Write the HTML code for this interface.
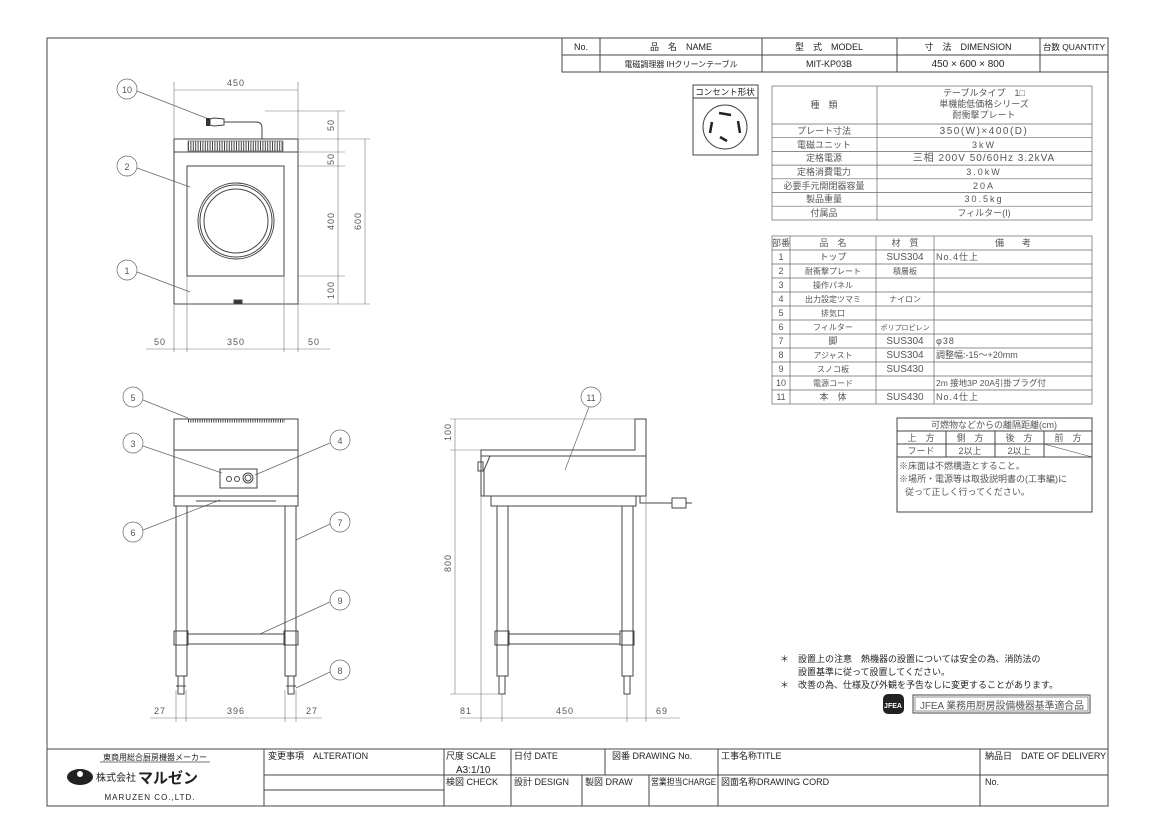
<!DOCTYPE html>
<html><head><meta charset="utf-8"><style>
html,body{margin:0;padding:0;background:#fff;}
svg{display:block;font-family:"Liberation Sans","Noto Sans CJK JP",sans-serif;}
.l{stroke:#444;stroke-width:1;fill:none}
.t{stroke:#666;stroke-width:.7;fill:none}
.d{stroke:#777;stroke-width:.6;fill:none}
text{fill:#222;font-size:9px}
.g{fill:#555}
.b text{text-anchor:middle}
</style></head><body>
<svg width="1155" height="817" viewBox="0 0 1155 817" xmlns="http://www.w3.org/2000/svg">
<!-- frame -->
<rect x="47" y="38" width="1061" height="768" class="l"/>
<!-- header table -->
<g class="l"><rect x="562" y="38" width="546" height="34" fill="#fff"/>
<line x1="562" y1="55" x2="1108" y2="55"/>
<line x1="600" y1="38" x2="600" y2="72"/><line x1="762" y1="38" x2="762" y2="72"/>
<line x1="897" y1="38" x2="897" y2="72"/><line x1="1040" y1="38" x2="1040" y2="72"/></g>
<g class="b"><text x="581" y="50">No.</text><text x="681" y="50">品　名　NAME</text>
<text x="829" y="50">型　式　MODEL</text><text x="968" y="50">寸　法　DIMENSION</text>
<text x="1074" y="50" style="font-size:8.5px">台数 QUANTITY</text>
<text x="681" y="67" style="font-size:8px">電磁調理器 IHクリーンテーブル</text><text x="829" y="67">MIT-KP03B</text>
<text x="968" y="67" style="font-size:10px">450 × 600 × 800</text></g>

<!-- consent -->
<rect x="693" y="85" width="65" height="70" class="l"/><line x1="693" y1="98" x2="758" y2="98" class="l"/>
<text x="725" y="95" style="font-size:8.5px;text-anchor:middle">コンセント形状</text>
<circle cx="725" cy="127" r="22" class="l"/>
<g stroke="#222" stroke-width="2.5" fill="none"><path d="M719 113 L731 115"/><path d="M712 122 L710 133"/><path d="M738 121 L740 133"/><path d="M720 137 L727 141"/></g>

<!-- spec table -->
<g class="t"><rect x="772" y="86" width="320" height="134"/>
<line x1="877" y1="86" x2="877" y2="220"/>
<line x1="772" y1="124" x2="1092" y2="124"/><line x1="772" y1="137.7" x2="1092" y2="137.7"/>
<line x1="772" y1="151.4" x2="1092" y2="151.4"/><line x1="772" y1="165.1" x2="1092" y2="165.1"/>
<line x1="772" y1="178.8" x2="1092" y2="178.8"/><line x1="772" y1="192.5" x2="1092" y2="192.5"/>
<line x1="772" y1="206.2" x2="1092" y2="206.2"/></g>
<g class="b g" style="font-size:9px">
<text x="824" y="108" class="g">種　類</text>
<text x="984" y="96" class="g">テーブルタイプ　1□</text><text x="984" y="107" class="g">単機能低価格シリーズ</text><text x="984" y="118" class="g">耐衝撃プレート</text>
<text x="824" y="134" class="g">プレート寸法</text><text x="984" y="134" class="g" style="font-size:10px;letter-spacing:1.5px">350(W)×400(D)</text>
<text x="824" y="148" class="g">電磁ユニット</text><text x="984" y="148" class="g" style="letter-spacing:2px">3kW</text>
<text x="824" y="161" class="g">定格電源</text><text x="984" y="161" class="g" style="font-size:10px;letter-spacing:1px">三相 200V 50/60Hz 3.2kVA</text>
<text x="824" y="175" class="g">定格消費電力</text><text x="984" y="175" class="g" style="letter-spacing:2px">3.0kW</text>
<text x="824" y="189" class="g">必要手元開閉器容量</text><text x="984" y="189" class="g" style="letter-spacing:2px">20A</text>
<text x="824" y="202" class="g">製品重量</text><text x="984" y="202" class="g" style="letter-spacing:2px">30.5kg</text>
<text x="824" y="216" class="g">付属品</text><text x="984" y="216" class="g">フィルター(I)</text></g>

<!-- parts table -->
<g class="t"><rect x="772" y="236" width="320" height="168"/>
<line x1="790" y1="236" x2="790" y2="404"/><line x1="876" y1="236" x2="876" y2="404"/><line x1="934" y1="236" x2="934" y2="404"/>
<line x1="772" y1="250" x2="1092" y2="250"/><line x1="772" y1="264" x2="1092" y2="264"/><line x1="772" y1="278" x2="1092" y2="278"/>
<line x1="772" y1="292" x2="1092" y2="292"/><line x1="772" y1="306" x2="1092" y2="306"/><line x1="772" y1="320" x2="1092" y2="320"/>
<line x1="772" y1="334" x2="1092" y2="334"/><line x1="772" y1="348" x2="1092" y2="348"/><line x1="772" y1="362" x2="1092" y2="362"/>
<line x1="772" y1="376" x2="1092" y2="376"/><line x1="772" y1="390" x2="1092" y2="390"/></g>
<g class="b" style="font-size:9px">
<text x="781" y="246" class="g">部番</text><text x="833" y="246" class="g">品　名</text><text x="905" y="246" class="g">材　質</text><text x="1013" y="246" class="g">備　　考</text>
<text x="781" y="260" class="g">1</text><text x="833" y="260" class="g">トップ</text><text x="905" y="260" class="g" style="font-size:10px">SUS304</text>
<text x="781" y="274" class="g">2</text><text x="833" y="274" class="g" style="font-size:8px">耐衝撃プレート</text><text x="905" y="274" class="g" style="font-size:8px">積層板</text>
<text x="781" y="288" class="g">3</text><text x="833" y="288" class="g" style="font-size:8px">操作パネル</text>
<text x="781" y="302" class="g">4</text><text x="833" y="302" class="g" style="font-size:8px">出力設定ツマミ</text><text x="905" y="302" class="g" style="font-size:8px">ナイロン</text>
<text x="781" y="316" class="g">5</text><text x="833" y="316" class="g" style="font-size:8px">排気口</text>
<text x="781" y="330" class="g">6</text><text x="833" y="330" class="g" style="font-size:8px">フィルター</text><text x="905" y="330" class="g" style="font-size:7px">ポリプロピレン</text>
<text x="781" y="344" class="g">7</text><text x="833" y="344" class="g">脚</text><text x="905" y="344" class="g" style="font-size:10px">SUS304</text>
<text x="781" y="358" class="g">8</text><text x="833" y="358" class="g" style="font-size:8px">アジャスト</text><text x="905" y="358" class="g" style="font-size:10px">SUS304</text>
<text x="781" y="372" class="g">9</text><text x="833" y="372" class="g" style="font-size:8px">スノコ板</text><text x="905" y="372" class="g" style="font-size:10px">SUS430</text>
<text x="781" y="386" class="g">10</text><text x="833" y="386" class="g" style="font-size:8px">電源コード</text>
<text x="781" y="400" class="g">11</text><text x="833" y="400" class="g">本　体</text><text x="905" y="400" class="g" style="font-size:10px">SUS430</text></g>
<g class="g" style="font-size:9.5px">
<text x="936" y="260" class="g" style="letter-spacing:1px">No.4仕上</text><text x="936" y="344" class="g" style="letter-spacing:1px">φ38</text>
<text x="936" y="358" class="g">調整幅:-15～+20mm</text><text x="936" y="386" class="g" style="font-size:8.5px">2m 接地3P 20A引掛プラグ付</text>
<text x="936" y="400" class="g" style="letter-spacing:1px">No.4仕上</text></g>

<!-- clearance -->
<g class="l"><rect x="897" y="418" width="195" height="94"/>
<line x1="897" y1="431" x2="1092" y2="431"/><line x1="897" y1="444" x2="1092" y2="444"/><line x1="897" y1="457" x2="1092" y2="457"/>
<line x1="946" y1="431" x2="946" y2="457"/><line x1="995" y1="431" x2="995" y2="457"/><line x1="1044" y1="431" x2="1044" y2="457"/>
<line x1="1044" y1="444" x2="1092" y2="457" stroke-width=".6"/></g>
<g class="b"><text x="994" y="428" class="g">可燃物などからの離隔距離(cm)</text>
<text x="921" y="441" class="g">上　方</text><text x="970" y="441" class="g">側　方</text><text x="1019" y="441" class="g">後　方</text><text x="1068" y="441" class="g">前　方</text>
<text x="921" y="454" class="g">フード</text><text x="970" y="454" class="g">2以上</text><text x="1019" y="454" class="g">2以上</text></g>
<text x="899" y="469" class="g">※床面は不燃構造とすること。</text>
<text x="899" y="482" class="g">※場所・電源等は取扱説明書の(工事編)に</text>
<text x="905" y="495" class="g">従って正しく行ってください。</text>

<!-- notes -->
<g style="font-size:10px"><text x="780" y="662">＊　設置上の注意　熱機器の設置については安全の為、消防法の</text>
<text x="798" y="675">設置基準に従って設置してください。</text>
<text x="780" y="688">＊　改善の為、仕様及び外観を予告なしに変更することがあります。</text></g>
<rect x="883" y="694" width="21" height="20" rx="5" fill="#222"/><text x="893" y="708" style="fill:#fff;font-size:7px;text-anchor:middle;font-weight:bold">JFEA</text>
<rect x="913" y="695" width="177" height="18" class="l"/><rect x="915" y="697" width="173" height="14" class="t"/>
<text x="920" y="709" style="font-size:10px" class="g" textLength="164" lengthAdjust="spacingAndGlyphs">JFEA 業務用厨房設備機器基準適合品</text>

<!-- title block -->
<g class="l"><line x1="47" y1="749" x2="1108" y2="749"/>
<line x1="264" y1="749" x2="264" y2="806"/><line x1="444" y1="749" x2="444" y2="806"/>
<line x1="511" y1="749" x2="511" y2="806"/><line x1="605" y1="749" x2="605" y2="775"/>
<line x1="582" y1="775" x2="582" y2="806"/><line x1="649" y1="775" x2="649" y2="806"/>
<line x1="718" y1="749" x2="718" y2="806"/><line x1="980" y1="749" x2="980" y2="806"/>
<line x1="264" y1="775" x2="1108" y2="775"/><line x1="264" y1="790" x2="444" y2="790"/>
<line x1="100" y1="762" x2="210" y2="762" stroke-width=".7"/></g>
<text x="155" y="760" style="font-size:8px;text-anchor:middle">東商用総合厨房機器メーカー</text>
<ellipse cx="80" cy="777" rx="13" ry="8" fill="#222"/><circle cx="80" cy="774" r="3" fill="#fff"/>
<text x="96" y="781" style="font-size:10px">株式会社</text><text x="138" y="783" style="font-size:15px;font-weight:bold">マルゼン</text>
<text x="150" y="800" style="font-size:8px;text-anchor:middle;letter-spacing:1px">MARUZEN CO.,LTD.</text>
<g style="font-size:8px"><text x="268" y="759">変更事項　ALTERATION</text>
<text x="446" y="759">尺度 SCALE</text><text x="456" y="773" style="font-size:10px">A3:1/10</text>
<text x="514" y="759">日付 DATE</text><text x="612" y="759">図番 DRAWING No.</text><text x="721" y="759">工事名称TITLE</text>
<text x="985" y="759">納品日　DATE OF DELIVERY</text>
<text x="446" y="785">検図 CHECK</text><text x="514" y="785">設計 DESIGN</text><text x="585" y="785">製図 DRAW</text>
<text x="651" y="785" textLength="65" lengthAdjust="spacingAndGlyphs">営業担当CHARGE</text><text x="721" y="785">図面名称DRAWING CORD</text><text x="985" y="785">No.</text></g>

<!-- TOP VIEW -->
<g class="l">
<rect x="174" y="139" width="124" height="165"/>
<line x1="174" y1="152" x2="298" y2="152"/>
<rect x="187" y="166" width="97" height="110"/>
<circle cx="236" cy="221" r="38"/><circle cx="236" cy="221" r="36"/><circle cx="236" cy="221" r="32"/>
<path d="M262 139 L262 128 Q262 122 256 122 L224 122"/>
<path d="M210 119 L214 118 L224 119 L224 125 L214 126 L210 125 Z" fill="#fff"/>
<rect x="206" y="118" width="4" height="8" fill="#333" stroke="none"/>
<rect x="234" y="300" width="8" height="4" fill="#333"/></g>
<line x1="188" y1="146" x2="283" y2="146" stroke="#444" stroke-width="10" stroke-dasharray="1 1.4"/>
<rect x="188" y="141" width="95" height="10" class="t"/>
<g class="d">
<line x1="174" y1="82" x2="174" y2="139"/><line x1="298" y1="82" x2="298" y2="139"/>
<line x1="174" y1="90" x2="298" y2="90"/>
<line x1="298" y1="139" x2="370" y2="139"/><line x1="298" y1="152" x2="345" y2="152"/>
<line x1="298" y1="166" x2="345" y2="166"/><line x1="298" y1="276" x2="345" y2="276"/>
<line x1="298" y1="304" x2="370" y2="304"/><line x1="265" y1="111" x2="345" y2="111"/>
<line x1="338" y1="111" x2="338" y2="304"/><line x1="365" y1="139" x2="365" y2="304"/>
<line x1="174" y1="304" x2="174" y2="352"/><line x1="187" y1="276" x2="187" y2="352"/>
<line x1="284" y1="276" x2="284" y2="352"/><line x1="298" y1="304" x2="298" y2="352"/>
<line x1="146" y1="349" x2="330" y2="349"/></g>
<g class="g" style="font-size:11px;letter-spacing:1px">
<text x="236" y="86" style="text-anchor:middle" class="g">450</text>
<text x="160" y="345" style="text-anchor:middle" class="g">50</text><text x="236" y="345" style="text-anchor:middle" class="g">350</text><text x="314" y="345" style="text-anchor:middle" class="g">50</text>
<text transform="translate(334,125) rotate(-90)" style="text-anchor:middle" class="g">50</text>
<text transform="translate(334,159) rotate(-90)" style="text-anchor:middle" class="g">50</text>
<text transform="translate(334,221) rotate(-90)" style="text-anchor:middle" class="g">400</text>
<text transform="translate(334,290) rotate(-90)" style="text-anchor:middle" class="g">100</text>
<text transform="translate(361,221) rotate(-90)" style="text-anchor:middle" class="g">600</text></g>

<!-- balloons -->
<g class="t" fill="#fff">
<line x1="137" y1="91" x2="206" y2="118"/><line x1="137" y1="168" x2="190" y2="187"/><line x1="137" y1="272" x2="190" y2="292"/>
<line x1="143" y1="400" x2="188" y2="418"/><line x1="143" y1="446" x2="222" y2="473"/><line x1="330" y1="443" x2="255" y2="475"/>
<line x1="143" y1="530" x2="220" y2="500"/><line x1="330" y1="524" x2="296" y2="540"/><line x1="330" y1="602" x2="260" y2="634"/>
<line x1="330" y1="672" x2="296" y2="688"/><line x1="589" y1="407" x2="565" y2="470"/>
<circle cx="127" cy="89" r="10" fill="#fff"/><circle cx="127" cy="166" r="10" fill="#fff"/><circle cx="127" cy="270" r="10" fill="#fff"/>
<circle cx="133" cy="397" r="10" fill="#fff"/><circle cx="133" cy="443" r="10" fill="#fff"/><circle cx="340" cy="440" r="10" fill="#fff"/>
<circle cx="133" cy="532" r="10" fill="#fff"/><circle cx="340" cy="522" r="10" fill="#fff"/><circle cx="340" cy="600" r="10" fill="#fff"/>
<circle cx="340" cy="670" r="10" fill="#fff"/><circle cx="591" cy="397" r="10" fill="#fff"/></g>
<g class="g" style="font-size:10px;text-anchor:middle">
<text x="127" y="93" class="g">10</text><text x="127" y="170" class="g">2</text><text x="127" y="274" class="g">1</text>
<text x="133" y="401" class="g">5</text><text x="133" y="447" class="g">3</text><text x="340" y="444" class="g">4</text>
<text x="133" y="536" class="g">6</text><text x="340" y="526" class="g">7</text><text x="340" y="604" class="g">9</text>
<text x="340" y="674" class="g">8</text><text x="591" y="401" class="g">11</text></g>

<!-- FRONT ELEVATION -->
<g class="l">
<rect x="174" y="419" width="124" height="77"/><line x1="174" y1="450" x2="298" y2="450"/>
<rect x="220" y="469" width="37" height="19"/>
<circle cx="229" cy="479" r="2.5"/><circle cx="237" cy="479" r="2.5"/><circle cx="248" cy="478" r="5"/><circle cx="248" cy="478" r="3"/>
<rect x="174" y="496" width="124" height="10"/><line x1="196" y1="501" x2="276" y2="501"/>
<rect x="176" y="506" width="11" height="170"/><rect x="285" y="506" width="11" height="170"/>
<rect x="174" y="631" width="14" height="14"/><rect x="284" y="631" width="14" height="14"/>
<rect x="188" y="634" width="96" height="10"/>
<rect x="178" y="676" width="6" height="18"/><rect x="288" y="676" width="6" height="18"/>
<line x1="176" y1="686" x2="186" y2="686"/><line x1="286" y1="686" x2="296" y2="686"/></g>
<line x1="188" y1="421" x2="285" y2="421" stroke="#444" stroke-width="3" stroke-dasharray="1 1.3"/>
<g class="d"><line x1="176" y1="690" x2="176" y2="722"/><line x1="186" y1="690" x2="186" y2="722"/>
<line x1="285" y1="690" x2="285" y2="722"/><line x1="296" y1="690" x2="296" y2="722"/>
<line x1="150" y1="718" x2="322" y2="718"/></g>
<g class="g" style="font-size:10px;text-anchor:middle;letter-spacing:1px">
<text x="160" y="714" class="g">27</text><text x="236" y="714" class="g">396</text><text x="312" y="714" class="g">27</text></g>

<!-- SIDE ELEVATION -->
<g class="l">
<path d="M481 450 L635 450 L635 419 L646 419 L646 496 L481 496 Z"/>
<line x1="481" y1="456" x2="646" y2="456"/>
<path d="M490 456 L484 470 L484 496"/><rect x="478" y="462" width="5" height="9"/>
<rect x="491" y="496" width="145" height="10"/>
<rect x="497" y="506" width="11" height="170"/><rect x="622" y="506" width="11" height="170"/>
<rect x="495" y="631" width="14" height="14"/><rect x="620" y="631" width="14" height="14"/>
<rect x="509" y="634" width="111" height="10"/>
<rect x="499" y="676" width="6" height="18"/><rect x="624" y="676" width="6" height="18"/>
<path d="M640 496 L640 503 L672 503"/><rect x="672" y="498" width="14" height="10"/><line x1="686" y1="503" x2="692" y2="503"/></g>
<g class="d"><line x1="455" y1="419" x2="455" y2="694"/><line x1="450" y1="419" x2="635" y2="419"/>
<line x1="450" y1="450" x2="481" y2="450"/><line x1="450" y1="694" x2="500" y2="694"/>
<line x1="481" y1="496" x2="481" y2="722"/><line x1="502" y1="694" x2="502" y2="722"/>
<line x1="627" y1="694" x2="627" y2="722"/><line x1="646" y1="496" x2="646" y2="722"/>
<line x1="460" y1="718" x2="680" y2="718"/></g>
<g class="g" style="font-size:10px;text-anchor:middle;letter-spacing:1px">
<text transform="translate(451,432) rotate(-90)" class="g">100</text>
<text transform="translate(451,563) rotate(-90)" class="g">800</text>
<text x="466" y="714" class="g">81</text><text x="565" y="714" class="g">450</text><text x="662" y="714" class="g">69</text></g>
</svg>
</body></html>
